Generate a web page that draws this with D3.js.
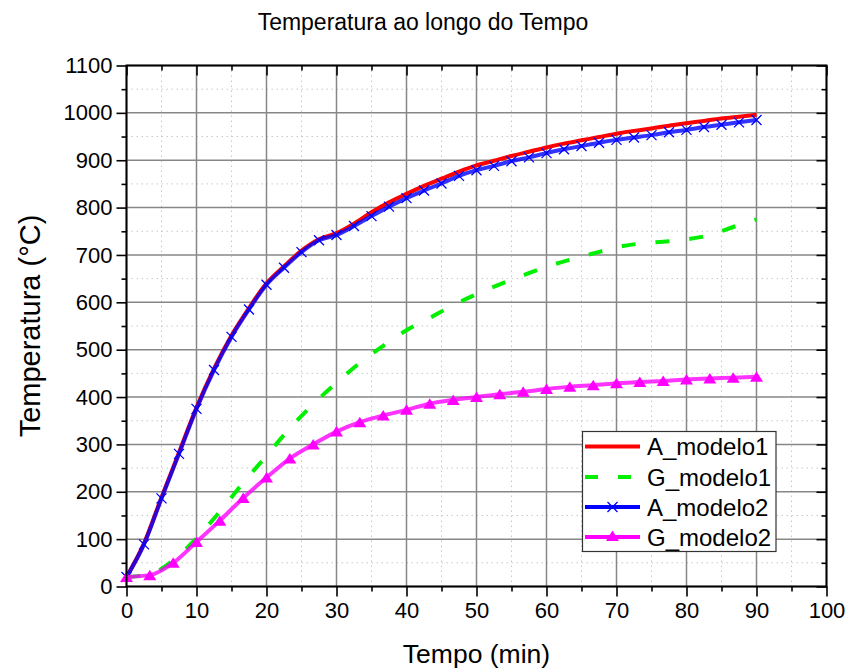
<!DOCTYPE html>
<html>
<head>
<meta charset="utf-8">
<script src="https://cdn.jsdelivr.net/npm/d3@7"></script>
<style>
  html, body { margin: 0; padding: 0; background: #fff; }
  svg { display: block; font-family: "Liberation Sans", Arial, sans-serif; }
</style>
</head>
<body>
<svg id="chart" width="846" height="668"></svg>
<script>
// Time (min) for the A series (sampled every 2.5 min)
const tempoA = [0, 2.5, 5, 7.5, 10, 12.5, 15, 17.5, 20, 22.5, 25, 27.5, 30, 32.5, 35, 37.5,
  40, 42.5, 45, 47.5, 50, 52.5, 55, 57.5, 60, 62.5, 65, 67.5, 70, 72.5, 75, 77.5, 80,
  82.5, 85, 87.5, 90];
const aModelo1 = [20, 91, 188, 283, 378, 460, 530, 588, 640, 676, 709, 733, 746, 766, 790, 811,
  829, 846, 861, 876, 889, 899, 909, 918, 927, 935, 942, 949, 956, 962, 967, 973, 978,
  983, 988, 992, 996];
const aModelo2 = [20, 89, 186, 280, 375, 457, 527, 585, 637, 673, 706, 731, 742, 761, 782, 802,
  820, 836, 851, 867, 879, 888, 898, 906, 915, 923, 930, 937, 943, 948, 953, 959, 964,
  970, 975, 980, 985];

// Time (min) for the G series (sampled every 10/3 min)
const tempoG = [0, 3.33, 6.67, 10, 13.33, 16.67, 20, 23.33, 26.67, 30, 33.33, 36.67, 40,
  43.33, 46.67, 50, 53.33, 56.67, 60, 63.33, 66.67, 70, 73.33, 76.67, 80, 83.33, 86.67, 90];
const gModelo1 = [20, 26, 55, 102, 158, 219, 276, 334, 385, 430, 472, 508, 541,
  567, 594, 617, 638, 657, 675, 690, 703, 716, 724, 728, 733, 742, 759, 775];
const gModelo2 = [20, 24, 50, 94, 139, 187, 230, 270, 300, 327, 347, 361, 373,
  386, 394, 400, 406, 411, 417, 422, 425, 429, 432, 434, 437, 439, 441, 443];

const xTicks = [0, 10, 20, 30, 40, 50, 60, 70, 80, 90, 100];
const yTicks = [0, 100, 200, 300, 400, 500, 600, 700, 800, 900, 1000, 1100];
const xMinor = [5, 15, 25, 35, 45, 55, 65, 75, 85, 95];
const yMinor = [50, 150, 250, 350, 450, 550, 650, 750, 850, 950, 1050];

const title = "Temperatura ao longo do Tempo";
const xTitle = "Tempo (min)";
const yTitle = "Temperatura (°C)";

const seriesNames = ["A_modelo1", "G_modelo1", "A_modelo2", "G_modelo2"];

const svg = d3.select("#chart");
const pL = 126.5, pR = 826.5, pT = 65.5, pB = 586.5;

const x = d3.scaleLinear().domain([0, 100]).range([pL, pR]);
const y = d3.scaleLinear().domain([0, 1100]).range([pB, pT]);

// Grid: minor dotted, major solid
const grid = svg.append("g");
grid.selectAll(".gxm").data(xMinor).join("line")
  .attr("x1", d => x(d)).attr("x2", d => x(d)).attr("y1", pT).attr("y2", pB)
  .attr("stroke", "#c8c8c8").attr("stroke-width", 1).attr("stroke-dasharray", "1.5,3.5");
grid.selectAll(".gym").data(yMinor).join("line")
  .attr("y1", d => y(d)).attr("y2", d => y(d)).attr("x1", pL).attr("x2", pR)
  .attr("stroke", "#c8c8c8").attr("stroke-width", 1).attr("stroke-dasharray", "1.5,3.5");
grid.selectAll(".gx").data(xTicks).join("line")
  .attr("x1", d => x(d)).attr("x2", d => x(d)).attr("y1", pT).attr("y2", pB)
  .attr("stroke", "#878787").attr("stroke-width", 1.5);
grid.selectAll(".gy").data(yTicks).join("line")
  .attr("y1", d => y(d)).attr("y2", d => y(d)).attr("x1", pL).attr("x2", pR)
  .attr("stroke", "#878787").attr("stroke-width", 1.5);

// Series
const line = (xs, ys) => d3.line()
  .x((d, i) => x(xs[i])).y(d => y(d)).curve(d3.curveMonotoneX)(ys);

svg.append("path").attr("d", line(tempoA, aModelo1))
  .attr("fill", "none").attr("stroke", "#ff0000").attr("stroke-width", 4);
svg.append("path").attr("d", line(tempoG, gModelo1))
  .attr("fill", "none").attr("stroke", "#00f000").attr("stroke-width", 4)
  .attr("stroke-dasharray", "14,20");
svg.append("path").attr("d", line(tempoA, aModelo2))
  .attr("fill", "none").attr("stroke", "#0000ff").attr("stroke-opacity", 0.8).attr("stroke-width", 4);

const cross = "M-5,-5L5,5M-5,5L5,-5";
svg.append("g").selectAll("path").data(aModelo2).join("path")
  .attr("transform", (d, i) => `translate(${x(tempoA[i])},${y(d)})`)
  .attr("d", cross).attr("stroke", "#0000ff").attr("stroke-width", 1.3).attr("fill", "none");

svg.append("path").attr("d", line(tempoG, gModelo2))
  .attr("fill", "none").attr("stroke", "#ff00ff").attr("stroke-opacity", 0.8).attr("stroke-width", 4);

const tri = "M0,-5.5L6.5,5L-6.5,5Z";
svg.append("g").selectAll("path").data(gModelo2).join("path")
  .attr("transform", (d, i) => `translate(${x(tempoG[i])},${y(d)})`)
  .attr("d", tri).attr("fill", "#ff00ff");

// Axes
function styleAxis(g) {
  g.select(".domain").remove();
  g.selectAll(".tick line").attr("stroke", "#000").attr("stroke-width", 1.6);
  g.selectAll(".tick text").attr("fill", "#000").attr("font-size", 22)
    .attr("font-family", "'Liberation Sans', Arial, sans-serif");
}
const axes = svg.append("g");
axes.append("g").attr("transform", `translate(0,${pB})`)
  .call(d3.axisBottom(x).tickValues(xTicks).tickSize(10).tickPadding(6).tickFormat(d3.format("d")))
  .call(styleAxis);
axes.append("g").attr("transform", `translate(0,${pB})`)
  .call(d3.axisBottom(x).tickValues(xMinor).tickSize(5).tickFormat(""))
  .call(styleAxis);
axes.append("g").attr("transform", `translate(${pL},0)`)
  .call(d3.axisLeft(y).tickValues(yTicks).tickSize(10).tickPadding(4).tickFormat(d3.format("d")))
  .call(styleAxis);
axes.append("g").attr("transform", `translate(${pL},0)`)
  .call(d3.axisLeft(y).tickValues(yMinor).tickSize(5).tickFormat(""))
  .call(styleAxis);
// Top and right: ticks pointing inward, no labels
axes.append("g").attr("transform", `translate(0,${pT})`)
  .call(d3.axisBottom(x).tickValues(xTicks).tickSize(10).tickFormat(""))
  .call(styleAxis);
axes.append("g").attr("transform", `translate(0,${pT})`)
  .call(d3.axisBottom(x).tickValues(xMinor).tickSize(5).tickFormat(""))
  .call(styleAxis);
axes.append("g").attr("transform", `translate(${pR},0)`)
  .call(d3.axisLeft(y).tickValues(yTicks).tickSize(10).tickFormat(""))
  .call(styleAxis);
axes.append("g").attr("transform", `translate(${pR},0)`)
  .call(d3.axisLeft(y).tickValues(yMinor).tickSize(5).tickFormat(""))
  .call(styleAxis);

// Frame
svg.append("rect").attr("x", pL).attr("y", pT)
  .attr("width", pR - pL).attr("height", pB - pT)
  .attr("fill", "none").attr("stroke", "#000").attr("stroke-width", 2);

// Titles
svg.append("text").attr("x", 423).attr("y", 30).attr("text-anchor", "middle")
  .attr("font-size", 23).text(title);
svg.append("text").attr("x", (pL + pR) / 2).attr("y", 663).attr("text-anchor", "middle")
  .attr("font-size", 26.5).text(xTitle);
svg.append("text").attr("transform", `translate(40,${(pT + pB) / 2}) rotate(-90)`)
  .attr("text-anchor", "middle").attr("font-size", 29).text(yTitle);

// Legend
const lg = svg.append("g");
lg.append("rect").attr("x", 582.5).attr("y", 431.5).attr("width", 193.5).attr("height", 120)
  .attr("fill", "#fff").attr("stroke", "#333").attr("stroke-width", 1.2);
const rowY = [446.5, 477, 507, 537];
const styles = [
  { color: "#ff0000", dash: null, marker: null },
  { color: "#00f000", dash: "13,20", marker: null },
  { color: "#0000ff", dash: null, marker: cross },
  { color: "#ff00ff", dash: null, marker: tri }
];
seriesNames.forEach((name, i) => {
  const s = styles[i];
  const ly = rowY[i];
  const l = lg.append("line").attr("x1", 585).attr("x2", 640).attr("y1", ly).attr("y2", ly)
    .attr("stroke", s.color).attr("stroke-width", 4);
  if (s.dash) l.attr("stroke-dasharray", s.dash);
  if (s.marker === cross) {
    lg.append("path").attr("d", cross).attr("transform", `translate(612.5,${ly})`)
      .attr("stroke", s.color).attr("stroke-width", 1.3).attr("fill", "none");
  } else if (s.marker === tri) {
    lg.append("path").attr("d", tri).attr("transform", `translate(612.5,${ly - 1})`)
      .attr("fill", s.color);
  }
  lg.append("text").attr("x", 647).attr("y", ly + 8.5).attr("font-size", 24).text(name);
});
</script>
</body>
</html>
